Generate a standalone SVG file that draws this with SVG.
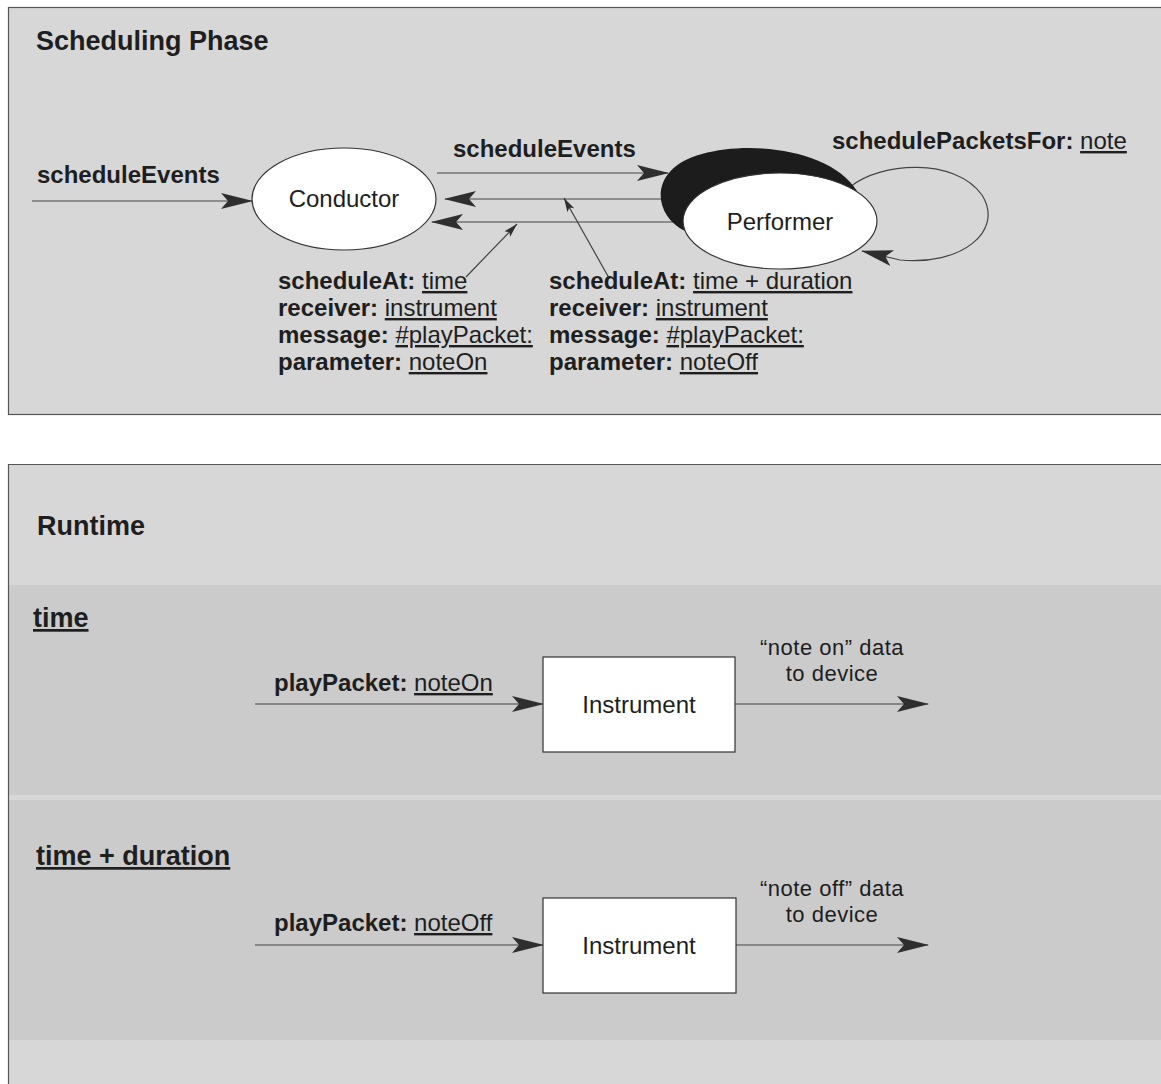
<svg xmlns="http://www.w3.org/2000/svg" width="1161" height="1084" viewBox="0 0 1161 1084">
<defs>
<style>
text{font-family:"Liberation Sans",Arial,sans-serif;fill:#1e1e1e}
.b{font-weight:bold}
.t24{font-size:24px}
.t27{font-size:27px}
.d{font-size:22px;letter-spacing:0.5px}
.u{text-decoration:underline}
.n{font-weight:normal}
.ln{stroke:#444;stroke-width:1.2;fill:none}
.node{fill:#fff;stroke:#333;stroke-width:1.2}
.panel{stroke:#555;stroke-width:1.2}
</style>
<marker id="ah" viewBox="0 0 32 16" refX="31" refY="8" markerWidth="32" markerHeight="16" markerUnits="userSpaceOnUse" orient="auto">
<path d="M0,0 L32,8 L0,16 L7,8 Z" fill="#2e2e2e"/>
</marker>
<marker id="sm" viewBox="0 0 14 8" refX="14" refY="4" markerWidth="14" markerHeight="8" markerUnits="userSpaceOnUse" orient="auto">
<path d="M0,0 L14,4 L0,8 L3,4 Z" fill="#2e2e2e"/>
</marker>
</defs>

<!-- panels -->
<g id="panel-scheduling">
<rect class="panel" x="8.5" y="7.5" width="1160" height="407" fill="#d7d7d7"/>
<text class="b t27" x="36" y="50">Scheduling Phase</text>
</g>
<g id="panel-runtime">
<rect x="8.5" y="464.5" width="1160" height="630" fill="#d7d7d7"/>
<rect x="9" y="585" width="1160" height="210" fill="#cbcbcb"/>
<rect x="9" y="800" width="1160" height="240" fill="#cbcbcb"/>
<path class="panel" d="M8.5,1084 L8.5,464.5 L1161,464.5" fill="none"/>
<text class="b t27" x="37" y="535">Runtime</text>
<text class="b t27 u" x="33" y="627">time</text>
<text class="b t27 u" x="36" y="865">time + duration</text>
</g>

<!-- connectors -->
<g id="connectors">
<path class="ln" d="M32,201 L252,201" marker-end="url(#ah)"/>
<path class="ln" d="M437,173 L668,173" marker-end="url(#ah)"/>
<path class="ln" d="M662,199 L445,199" marker-end="url(#ah)"/>
<path class="ln" d="M684,222 L432,222" marker-end="url(#ah)"/>
<path class="ln" d="M466,277 L517,224" marker-end="url(#sm)"/>
<path class="ln" d="M609,278 L564,198" marker-end="url(#sm)"/>
<path class="ln" d="M850,187 C880,162 955,157 982,195 C1005,232 960,266 900,260 L862,251" marker-end="url(#ah)"/>
<path class="ln" d="M255,704 L543,704" marker-end="url(#ah)"/>
<path class="ln" d="M735,704 L928,704" marker-end="url(#ah)"/>
<path class="ln" d="M255,945 L543,945" marker-end="url(#ah)"/>
<path class="ln" d="M736,945 L928,945" marker-end="url(#ah)"/>
</g>

<!-- labels -->
<g id="labels">
<text class="b t24" x="37" y="183">scheduleEvents</text>
<text class="b t24" x="453" y="157">scheduleEvents</text>
<text class="b t24" x="832" y="149">schedulePacketsFor: <tspan class="n u">note</tspan></text>
<text class="b t24" x="278" y="289">scheduleAt: <tspan class="n u">time</tspan></text>
<text class="b t24" x="278" y="316">receiver: <tspan class="n u">instrument</tspan></text>
<text class="b t24" x="278" y="343">message: <tspan class="n u">#playPacket:</tspan></text>
<text class="b t24" x="278" y="370">parameter: <tspan class="n u">noteOn</tspan></text>
<text class="b t24" x="549" y="289">scheduleAt: <tspan class="n u">time + duration</tspan></text>
<text class="b t24" x="549" y="316">receiver: <tspan class="n u">instrument</tspan></text>
<text class="b t24" x="549" y="343">message: <tspan class="n u">#playPacket:</tspan></text>
<text class="b t24" x="549" y="370">parameter: <tspan class="n u">noteOff</tspan></text>
<text class="b t24" x="274" y="691">playPacket: <tspan class="n u">noteOn</tspan></text>
<text class="b t24" x="274" y="931">playPacket: <tspan class="n u">noteOff</tspan></text>
<text class="d" x="832" y="655" text-anchor="middle">“note on” data</text>
<text class="d" x="832" y="681" text-anchor="middle">to device</text>
<text class="d" x="832" y="896" text-anchor="middle">“note off” data</text>
<text class="d" x="832" y="922" text-anchor="middle">to device</text>
</g>

<!-- nodes -->
<g id="node-conductor">
<ellipse class="node" cx="344" cy="199" rx="92" ry="51"/>
<text class="t24" x="344" y="207" text-anchor="middle">Conductor</text>
</g>
<g id="node-performer">
<path d="M685,231 C652,215 648,168 702,154 C752,140 832,150 857,191 L780,221 Z" fill="#1c1c1c"/>
<ellipse class="node" cx="780" cy="221" rx="97" ry="48"/>
<text class="t24" x="780" y="230" text-anchor="middle">Performer</text>
</g>
<g id="node-instrument-on">
<rect class="node" x="543" y="657" width="192" height="95"/>
<text class="t24" x="639" y="713" text-anchor="middle">Instrument</text>
</g>
<g id="node-instrument-off">
<rect class="node" x="543" y="898" width="193" height="95"/>
<text class="t24" x="639" y="954" text-anchor="middle">Instrument</text>
</g>
</svg>
